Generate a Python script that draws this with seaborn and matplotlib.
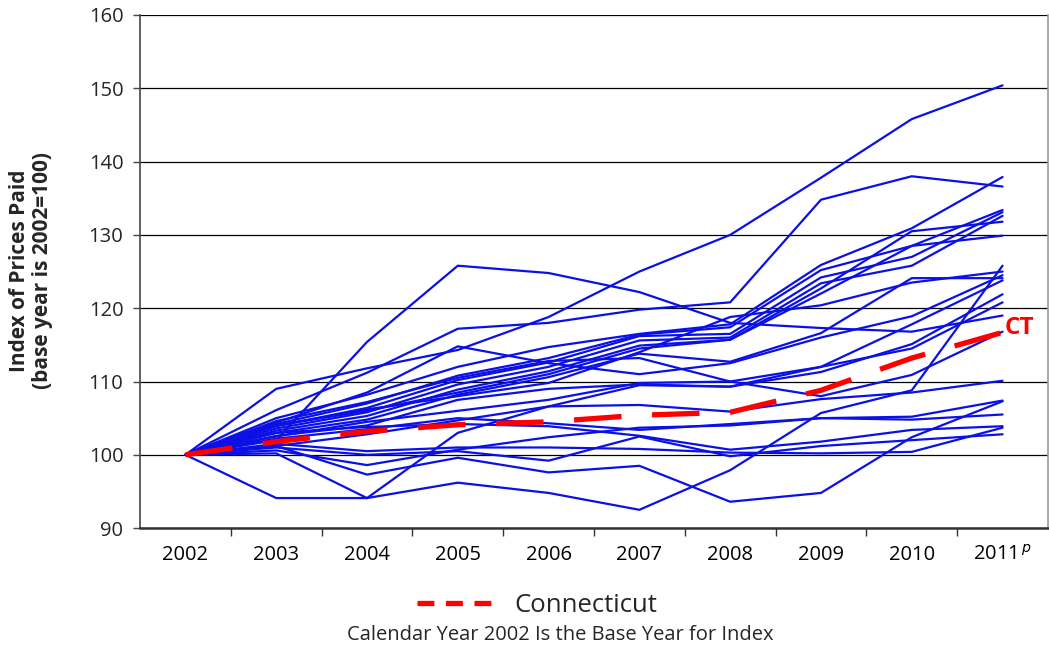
import matplotlib
matplotlib.use("Agg")
import matplotlib.pyplot as plt
from matplotlib.lines import Line2D
from matplotlib.ticker import FixedLocator
import numpy as np
import pandas as pd
import seaborn as sns

years = ["2002", "2003", "2004", "2005", "2006", "2007", "2008", "2009", "2010", "2011"]
year_labels = ["2002", "2003", "2004", "2005", "2006", "2007", "2008", "2009", "2010", "2011$^{\\,p}$"]

ct = [100, 101.8, 103.2, 104.1, 104.5, 105.4, 105.8, 108.8, 113.2, 116.7]

s01 = [100, 109.0, 111.8, 114.3, 118.8, 125.0, 130.0, 137.8, 145.8, 150.4]
s02 = [100, 106.1, 111.2, 117.2, 118.0, 119.8, 120.8, 134.8, 138.0, 136.6]
s03 = [100, 102.0, 115.4, 125.8, 124.8, 122.2, 118.0, 117.3, 116.8, 119.0]
s04 = [100, 105.0, 108.2, 112.0, 114.7, 116.5, 117.8, 125.9, 130.9, 137.9]
s05 = [100, 104.2, 107.0, 110.8, 113.2, 116.4, 117.4, 125.2, 128.5, 133.4]
s06 = [100, 103.9, 106.4, 110.2, 112.6, 116.2, 116.5, 124.2, 127.0, 133.1]
s07 = [100, 103.6, 105.8, 109.6, 112.0, 115.6, 116.0, 123.4, 125.8, 132.6]
s08 = [100, 104.0, 106.0, 108.5, 111.0, 114.5, 115.7, 122.7, 130.5, 131.8]
s09 = [100, 103.3, 105.3, 108.9, 111.4, 114.9, 115.7, 122.0, 128.5, 129.9]
s10 = [100, 104.0, 106.2, 108.0, 109.8, 114.0, 118.8, 120.4, 123.5, 125.0]
s11 = [100, 103.0, 104.8, 108.2, 110.6, 113.8, 112.7, 116.6, 124.1, 124.1]
s12 = [100, 104.4, 108.5, 114.8, 112.5, 111.0, 112.5, 116.0, 118.9, 124.5]
s13 = [100, 104.6, 107.2, 110.5, 112.8, 113.2, 110.0, 112.0, 117.8, 123.8]
s14 = [100, 100.2, 94.1, 103.0, 106.6, 109.5, 109.3, 111.3, 115.1, 121.9]
s15 = [100, 102.6, 104.0, 107.5, 109.0, 109.6, 109.3, 112.0, 114.5, 120.8]
s16 = [100, 102.5, 104.5, 106.0, 107.5, 109.8, 110.0, 108.0, 110.9, 116.8]
s17 = [100, 101.2, 102.8, 104.7, 106.6, 106.8, 105.9, 107.6, 108.5, 110.1]
s18 = [100, 101.2, 97.3, 99.6, 97.6, 98.5, 93.6, 94.8, 102.4, 107.3]
s19 = [100, 100.6, 98.6, 100.7, 102.4, 103.7, 104.0, 105.0, 105.2, 107.4]
s20 = [100, 94.1, 94.1, 96.2, 94.8, 92.5, 97.9, 105.7, 108.8, 125.8]
s21 = [100, 102.2, 103.5, 105.0, 104.3, 103.4, 104.2, 105.0, 104.8, 105.5]
s22 = [100, 101.5, 100.5, 101.0, 101.0, 100.8, 100.3, 100.2, 100.4, 103.7]
s23 = [100, 101.0, 100.0, 100.5, 99.2, 102.5, 99.8, 101.2, 102.0, 102.8]
s24 = [100, 103.0, 103.8, 104.2, 103.9, 102.6, 100.7, 101.8, 103.4, 103.9]

others = [s01, s02, s03, s04, s05, s06, s07, s08, s09, s10, s11, s12,
          s13, s14, s15, s16, s17, s18, s19, s20, s21, s22, s23, s24]

rows = []
for i, s in enumerate(others):
    for j, v in enumerate(s):
        rows.append({"state": f"S{i:02d}", "pos": j, "value": v})
df = pd.DataFrame(rows)
df_ct = pd.DataFrame({"pos": np.arange(len(years)), "value": ct})

sns.set_theme(style="white")
plt.rcParams["font.family"] = ["Open Sans", "DejaVu Sans"]

fig = plt.figure(figsize=(10.49, 6.52), dpi=100)
ax = fig.add_axes([0.1335, 0.19, 0.8655, 0.787])

blue = "#0A10E6"
sns.lineplot(data=df, x="pos", y="value", hue="state",
             palette=[blue] * len(others), legend=False, linewidth=1.6,
             ax=ax, estimator=None)
sns.lineplot(data=df_ct, x="pos", y="value", color="#FF0000", linewidth=3.8,
             ax=ax, legend=False, estimator=None)
ax.lines[-1].set_linestyle((0, (9.0, 5.8)))

ax.set_xlim(-0.5, 9.5)
ax.set_ylim(90, 160)
ax.set_yticks(np.arange(90, 161, 10))
ax.set_xticks(np.arange(len(years)))
ax.set_xticklabels(year_labels)
ax.xaxis.set_minor_locator(FixedLocator(np.arange(0.5, 9.5, 1.0)))
ax.tick_params(axis="x", which="major", length=0, pad=12, labelsize=14.5, colors="black")
ax.tick_params(axis="x", which="minor", length=6, width=1, color="#333333", direction="out", bottom=True)
ax.tick_params(axis="y", which="major", length=5, width=1, color="#444444", pad=7,
               labelsize=14.5, left=True, direction="out")
ax.set_xlabel("")
ax.set_ylabel("")

ax.yaxis.grid(True, color="black", linewidth=0.9)
ax.xaxis.grid(False)
ax.set_axisbelow(True)
ax.spines["left"].set_color("#444444")
ax.spines["left"].set_linewidth(1.2)
ax.spines["right"].set_color("#999999")
ax.spines["right"].set_linewidth(1.2)
ax.spines["top"].set_visible(False)
ax.spines["bottom"].set_color("#333333")
ax.spines["bottom"].set_linewidth(1.8)

ax.text(9.02, 117.3, "CT", color="#FF0000", fontsize=17.5, fontweight="bold",
        ha="left", va="center")

fig.text(31 / 1049, 1 - 271 / 652, "Index of Prices Paid\n(base year is 2002=100)",
         rotation=90, ha="center", va="center", fontsize=15, fontweight="bold",
         linespacing=1.15)

handle = Line2D([], [], color="#FF0000", linewidth=3.8, linestyle=(0, (3.2, 2.2)))
fig.legend([handle], ["Connecticut"], loc="center",
           bbox_to_anchor=(537 / 1049, 1 - 605 / 652), frameon=False,
           fontsize=18.5, handlelength=3.0, handletextpad=0.8)

fig.text(560 / 1049, 1 - 635 / 652, "Calendar Year 2002 Is the Base Year for Index",
         ha="center", va="center", fontsize=14.5)

fig.savefig("out.png", dpi=100)
